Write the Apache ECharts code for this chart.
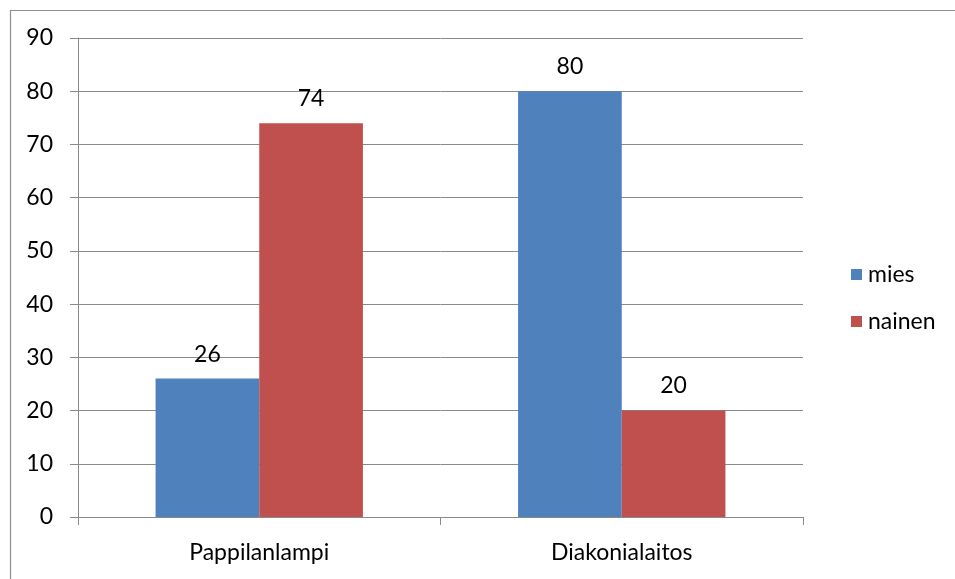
<!DOCTYPE html>
<html>
<head>
<meta charset="utf-8">
<script src="https://cdn.jsdelivr.net/npm/echarts@6/dist/echarts.min.js"></script>
<style>
  html, body { margin: 0; padding: 0; background: #ffffff; }
  #chart { width: 955px; height: 579px; }
</style>
</head>
<body>
<div id="chart"></div>
<script>
// Sukupuolijakauma kohteittain (%)
const categories = ['Pappilanlampi', 'Diakonialaitos'];
const seriesNames = ['mies', 'nainen'];
const miesValues = [26, 80];
const nainenValues = [74, 20];
const yTicks = [0, 10, 20, 30, 40, 50, 60, 70, 80, 90];

const FONT = 'Lato, "Open Sans", sans-serif';
const FONT_SIZE = 23;
const GRID_COLOR = '#8a8a8a';

const chart = echarts.init(document.getElementById('chart'), null, { renderer: 'canvas' });

const valueLabel = {
  show: true,
  position: 'top',
  distance: 13,
  color: '#000000',
  fontFamily: FONT,
  fontSize: FONT_SIZE
};

chart.setOption({
  backgroundColor: '#ffffff',
  animation: false,
  graphic: [{
    type: 'rect',
    left: 8,
    top: 8,
    shape: { width: 960, height: 590 },
    style: { fill: 'none', stroke: '#8f8f8f', lineWidth: 1.2 },
    silent: true
  }],
  grid: { left: 78, top: 38, right: 152, bottom: 62, containLabel: false },
  legend: {
    orient: 'vertical',
    left: 846,
    top: 258,
    data: seriesNames,
    icon: 'rect',
    itemWidth: 11,
    itemHeight: 11,
    itemGap: 24,
    textStyle: {
      fontFamily: FONT,
      fontSize: FONT_SIZE,
      lineHeight: 23,
      color: '#000000',
      padding: [0, 0, 0, 1]
    }
  },
  xAxis: {
    type: 'category',
    data: categories,
    axisLine: { show: true, lineStyle: { color: GRID_COLOR, width: 1 } },
    axisTick: { show: true, length: 8, alignWithLabel: false, lineStyle: { color: GRID_COLOR } },
    axisLabel: { margin: 24, color: '#000000', fontFamily: FONT, fontSize: FONT_SIZE },
    splitLine: { show: false }
  },
  yAxis: {
    type: 'value',
    min: yTicks[0],
    max: yTicks[yTicks.length - 1],
    interval: 10,
    axisLine: { show: true, lineStyle: { color: GRID_COLOR, width: 1 } },
    axisTick: { show: true, length: 8, lineStyle: { color: GRID_COLOR } },
    axisLabel: { margin: 25, color: '#000000', fontFamily: FONT, fontSize: FONT_SIZE },
    splitLine: { show: true, lineStyle: { color: GRID_COLOR, width: 1 } }
  },
  series: [
    {
      name: seriesNames[0],
      type: 'bar',
      data: miesValues,
      barGap: '0%',
      barCategoryGap: '42.8%',
      itemStyle: { color: '#4F81BD' },
      label: valueLabel
    },
    {
      name: seriesNames[1],
      type: 'bar',
      data: nainenValues,
      barGap: '0%',
      barCategoryGap: '42.8%',
      itemStyle: { color: '#C0504D' },
      label: valueLabel
    }
  ]
});
</script>
</body>
</html>
